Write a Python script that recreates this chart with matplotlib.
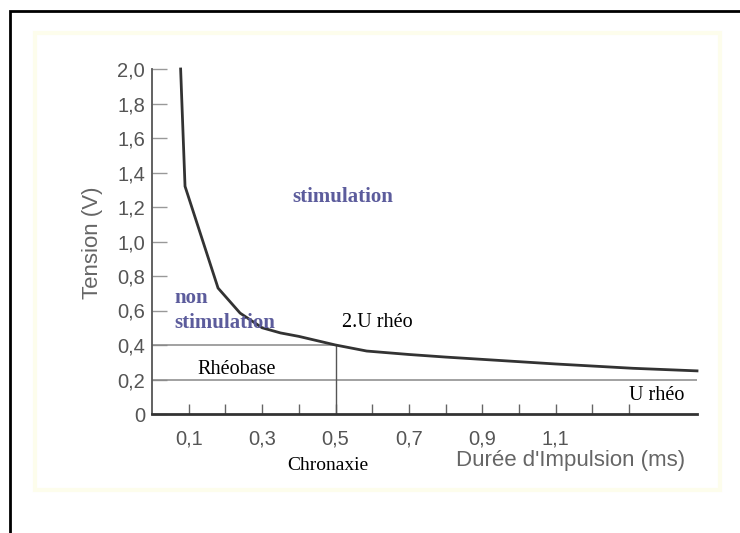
import numpy as np
import matplotlib
matplotlib.use("Agg")
import matplotlib.pyplot as plt
from matplotlib.patches import Rectangle

# Courbe intensite-duree
duree = [0.078, 0.09, 0.18, 0.24, 0.30, 0.35, 0.40, 0.50, 0.585, 0.70, 0.80, 0.95, 1.10, 1.31, 1.485]
tension = [2.0, 1.32, 0.73, 0.585, 0.50, 0.47, 0.45, 0.40, 0.365, 0.345, 0.33, 0.31, 0.29, 0.265, 0.25]

rheobase = 0.2
chronaxie = 0.5
x_ticks = [0.1, 0.2, 0.3, 0.4, 0.5, 0.6, 0.7, 0.8, 0.9, 1.0, 1.1, 1.2, 1.3]
x_labels = ['0,1', '', '0,3', '', '0,5', '', '0,7', '', '0,9', '', '1,1', '', '']
y_ticks = [0, 0.2, 0.4, 0.6, 0.8, 1.0, 1.2, 1.4, 1.6, 1.8, 2.0]
y_labels = ['0', '0,2', '0,4', '0,6', '0,8', '1,0', '1,2', '1,4', '1,6', '1,8', '2,0']

W, H = 740, 533
fig = plt.figure(figsize=(W / 100, H / 100), dpi=100)

# cadre noir + panneau jaune pale
fig.patches.append(Rectangle((10 / W, -0.1), 1.2, 1 - 11 / H + 0.1, transform=fig.transFigure,
                             fill=False, ec='black', lw=2))
fig.patches.append(Rectangle((35 / W, 1 - 490 / H), 685 / W, 457 / H, transform=fig.transFigure,
                             fill=False, ec='#fdfdec', lw=3))

x0, y0, x1, y1 = 152, 414, 697, 69
ax = fig.add_axes([x0 / W, 1 - y0 / H, (x1 - x0) / W, (y0 - y1) / H])
ax.set_xlim(0, 1.485)
ax.set_ylim(0, 2.0)
ax.patch.set_alpha(0)

for s in ['top', 'right']:
    ax.spines[s].set_visible(False)
ax.spines['left'].set_color('#555555')
ax.spines['left'].set_linewidth(1.3)
ax.spines['bottom'].set_color('#333333')
ax.spines['bottom'].set_linewidth(2)

ax.set_xticks(x_ticks)
ax.set_xticklabels(x_labels)
ax.set_yticks(y_ticks)
ax.set_yticklabels(y_labels)
ax.tick_params(axis='x', direction='in', length=7, width=1, color='#666666',
               labelsize=14.5, labelcolor='#555555', pad=11)
ax.tick_params(axis='y', direction='in', length=11, width=1, color='#999999',
               labelsize=14.5, labelcolor='#555555', pad=5)
for lab in ax.get_xticklabels() + ax.get_yticklabels():
    lab.set_family('Liberation Sans')

# lignes de construction
ax.plot([0, chronaxie], [2 * rheobase, 2 * rheobase], color='#888888', lw=1.1)
ax.plot([0, 1.485], [rheobase, rheobase], color='#888888', lw=1.1)
ax.plot([chronaxie, chronaxie], [0, 2 * rheobase], color='#555555', lw=1)

# courbe
ax.plot(duree, tension, color='#333333', lw=2, clip_on=False, solid_joinstyle='miter')

serif = 'Liberation Serif'
purple = '#5c5c9c'
ax.text(0.52, 1.26, 'stimulation', family=serif, weight='bold', fontsize=15,
        color=purple, ha='center', va='center')
ax.text(0.06, 0.67, 'non', family=serif, weight='bold', fontsize=15,
        color=purple, ha='left', va='center')
ax.text(0.06, 0.53, 'stimulation', family=serif, weight='bold', fontsize=15,
        color=purple, ha='left', va='center')
ax.text(0.518, 0.53, '2.U rhéo', family=serif, fontsize=14.5, color='black',
        ha='left', va='center')
ax.text(0.125, 0.26, 'Rhéobase', family=serif, fontsize=14.5, color='black',
        ha='left', va='center')
ax.text(1.30, 0.11, 'U rhéo', family=serif, fontsize=14.5, color='black',
        ha='left', va='center')
ax.text(0.48, -0.30, 'Chronaxie', family=serif, fontsize=14, color='black',
        ha='center', va='center', clip_on=False)

ax.text(1.452, -0.267, "Durée d'Impulsion (ms)", family='Liberation Sans', fontsize=16,
        color='#666666', ha='right', va='center', clip_on=False)
ax.text(-0.163, 0.99, 'Tension (V)', family='Liberation Sans', fontsize=16,
        color='#666666', ha='center', va='center', rotation=90, clip_on=False)

fig.savefig('out.png', dpi=100)
